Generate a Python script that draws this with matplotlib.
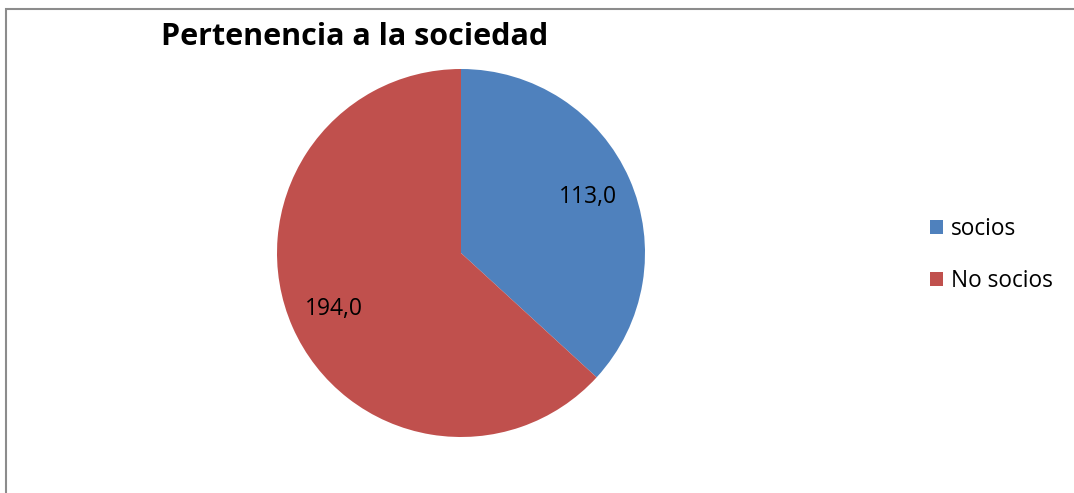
import matplotlib
matplotlib.use("Agg")
import matplotlib.pyplot as plt
from matplotlib.patches import Rectangle

categories = ["socios", "No socios"]
values = [113.0, 194.0]
colors = ["#4F81BD", "#C0504D"]
title = "Pertenencia a la sociedad"

plt.rcParams['font.family'] = ['Open Sans', 'DejaVu Sans']

W, H = 1074, 493
fig = plt.figure(figsize=(W / 100, H / 100), dpi=100)

# outer border
fig.patches.append(Rectangle((6 / W, -0.1), 1.2, 1.1 - 9 / H + 0.0,
                             transform=fig.transFigure, fill=False,
                             edgecolor="#8c8c8c", linewidth=1.5))

ax = fig.add_axes([277 / W, (H - 437) / H, 368 / W, 368 / H])
wedges, texts, autotexts = ax.pie(
    values, colors=colors, startangle=90, counterclock=False,
    autopct=lambda p: f"{p * sum(values) / 100:.1f}".replace(".", ","),
    pctdistance=0.755, radius=1.0,
    wedgeprops=dict(linewidth=0),
    textprops=dict(fontsize=16.5, color="black"))
ax.set_xlim(-1, 1)
ax.set_ylim(-1, 1)
ax.set_aspect("equal")

fig.text(355 / W, 1 - 37 / H, title, ha="center", va="center",
         fontsize=22, fontweight="bold")

leg = fig.legend(wedges, categories, loc="center left",
                 bbox_to_anchor=(930 / W, 1 - 255 / H), frameon=False,
                 fontsize=16.3, handlelength=0.58, handleheight=0.58,
                 handletextpad=0.36, labelspacing=1.2, borderpad=0.0,
                 borderaxespad=0.0)

fig.savefig("out.png", dpi=100)
